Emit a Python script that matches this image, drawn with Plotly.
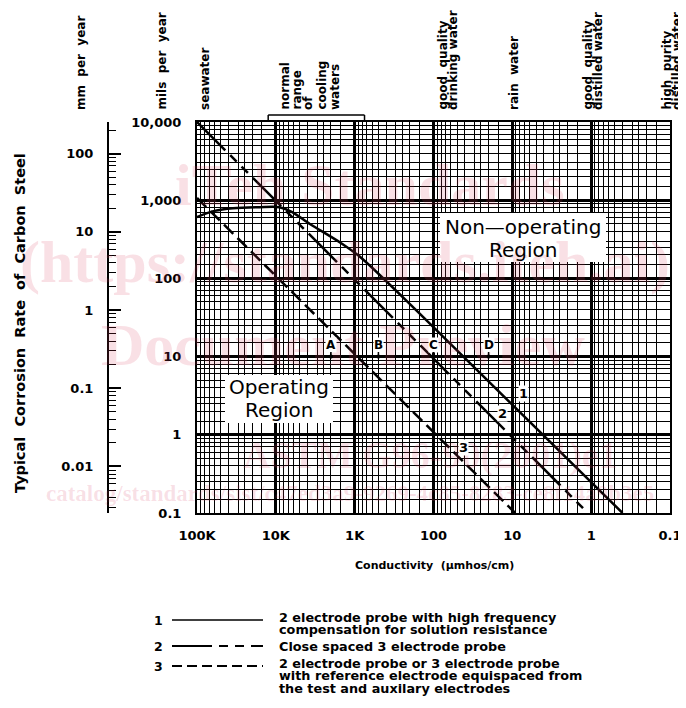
import numpy as np
import plotly.graph_objects as go

# ---------------- data ----------------
conductivity_ticks = [1e5, 1e4, 1e3, 1e2, 10, 1, 0.1]
conductivity_ticktext = ["100K", "10K", "1K", "100", "10", "1", "0.1"]
mpy_ticks = [10000, 1000, 100, 10, 1, 0.1]
mpy_ticktext = ["10,000", "1,000", "100", "10", "1", "0.1"]
mm_ticks = [100, 10, 1, 0.1, 0.01]
mm_ticktext = ["100", "10", "1", "0.1", "0.01"]
MM_PER_MIL = 0.0254

# curve 1: 2 electrode probe with HF compensation (solid)
curve1_x = [100000, 60000, 35000, 16000, 9000, 6200, 3700, 1500, 850, 135, 0.4]
curve1_y = [610, 730, 790, 815, 815, 706, 497, 284, 188, 32, 0.1]
# curve 2: close spaced 3 electrode probe
curve2_x = [100000, 1.1]
curve2_y = [10000, 0.1]
# curve 3: 2 electrode / 3 electrode equispaced
curve3_x = [100000, 9.2]
curve3_y = [1070, 0.1]

# marked points on the 10 mpy line
points_x = [2000, 500, 100, 20]
points_y = [10, 10, 10, 10]
points_labels = ["A", "B", "C", "D"]

# curve number labels
curve_label_x = [7.3, 13.5, 42]
curve_label_y = [3.4, 1.9, 0.68]
curve_label_text = ["1", "2", "3"]

# cooling water range bracket
cooling_range = [12500, 750]

legend_numbers = ["1", "2", "3"]
legend_texts = [
    ["2 electrode probe with high frequency", "compensation for solution resistance"],
    ["Close spaced 3 electrode probe"],
    ["2 electrode probe or 3 electrode probe",
     "with reference electrode equispaced from",
     "the test and auxilary electrodes"],
]

# ---------------- figure ----------------
OFF = 8                      # page body margin
W, H = 686 - OFF, 708 - OFF
def PX(x):
    return (x - OFF) / W
def PY(y):
    return 1 - (y - OFF) / H

def bf(size):
    return dict(family="DejaVu Sans", color="black", weight="bold", size=size)

DASH2 = "40px,7px,9px,7px,9px,7px"
DASH3 = "13px,6px"

# grid sub-divisions of the log paper (style only)
GRID_MANT = [1.5, 2, 2.5, 3, 4, 5, 6, 7, 8, 9]
xgrid = [m * 10.0 ** e for e in range(-1, 5) for m in GRID_MANT]
ygrid = [m * 10.0 ** e for e in range(-1, 4) for m in GRID_MANT]

fig = go.Figure()
fig.add_trace(go.Scatter(x=curve1_x, y=curve1_y, mode="lines",
                         line=dict(color="black", width=2.5, shape="spline", smoothing=0.8),
                         hoverinfo="skip", showlegend=False))
fig.add_trace(go.Scatter(x=curve2_x, y=curve2_y, mode="lines",
                         line=dict(color="black", width=2.5, dash=DASH2),
                         hoverinfo="skip", showlegend=False))
fig.add_trace(go.Scatter(x=curve3_x, y=curve3_y, mode="lines",
                         line=dict(color="black", width=2.5, dash=DASH3),
                         hoverinfo="skip", showlegend=False))
# invisible trace carrying the mm/year axis
fig.add_trace(go.Scatter(x=curve2_x, y=[v * MM_PER_MIL for v in curve2_y], yaxis="y2",
                         mode="lines", line=dict(width=0, color="rgba(0,0,0,0)"),
                         hoverinfo="skip", showlegend=False))

def grid_common(minor_vals):
    return dict(showgrid=True, gridcolor="black", gridwidth=2.5, zeroline=False,
                showline=True, linecolor="black", linewidth=2, mirror=True,
                ticks="", automargin=False,
                minor=dict(tickmode="array", tickvals=minor_vals, showgrid=True,
                           gridcolor="black", gridwidth=1, ticks=""))

fig.update_layout(
    width=W, height=H, margin=dict(l=0, r=0, t=0, b=0),
    paper_bgcolor="white", plot_bgcolor="white", showlegend=False,
    xaxis=dict(type="log", range=[5, -1], domain=[PX(197), PX(670)],
               tickmode="array", tickvals=conductivity_ticks, ticktext=conductivity_ticktext,
               tickfont=bf(13), ticklabelstandoff=9, **grid_common(xgrid)),
    yaxis=dict(type="log", range=[-1, 4], domain=[PY(513), PY(122)],
               tickmode="array", tickvals=mpy_ticks, ticktext=mpy_ticktext,
               tickfont=bf(13), ticklabelstandoff=11, **grid_common(ygrid)),
    yaxis2=dict(type="log", overlaying="y", anchor="free", position=PX(108), side="left",
                range=[np.log10(0.1 * MM_PER_MIL), np.log10(10000 * MM_PER_MIL)],
                tickmode="array", tickvals=mm_ticks, ticktext=mm_ticktext,
                ticks="inside", ticklen=12, tickwidth=1.5, tickcolor="black",
                minor=dict(dtick="D1", ticks="inside", ticklen=7, tickwidth=1.2,
                           tickcolor="black", showgrid=False),
                showgrid=False, zeroline=False, showline=True, linewidth=2, linecolor="black",
                tickfont=bf(13), ticklabelstandoff=11, automargin=False),
)

shapes = []
annos = []

# white boxes behind region labels
shapes.append(dict(type="rect", xref="paper", yref="paper", x0=PX(440), x1=PX(606),
                   y0=PY(262), y1=PY(213), fillcolor="white", line=dict(width=0), layer="above"))
shapes.append(dict(type="rect", xref="paper", yref="paper", x0=PX(225), x1=PX(333),
                   y0=PY(423), y1=PY(375), fillcolor="white", line=dict(width=0), layer="above"))

# cooling range bracket (data x, paper y)
yb0, yb1 = PY(122), PY(115)
for xa, xb, ya, yc in [(cooling_range[0], cooling_range[0], yb0, yb1),
                       (cooling_range[1], cooling_range[1], yb0, yb1),
                       (cooling_range[0], cooling_range[1], yb1, yb1)]:
    shapes.append(dict(type="line", xref="x", yref="paper", x0=xa, x1=xb, y0=ya, y1=yc,
                       line=dict(color="black", width=1.5)))

# faint document watermark
wm = "rgba(215,60,95,0.16)"
for txt, x, y, s in [("iTeh Standards", 370, 185, 60),
                     ("(https://standards.iteh.ai)", 345, 262, 60),
                     ("Document Preview", 343, 345, 60),
                     ("ASTM G96-90(2001)e1", 430, 455, 38),
                     ("catalog/standards/sist/c47ed3a9-9269-4c85-8283-ce8f14a9b3e5", 350, 493, 23)]:
    annos.append(dict(text=txt, x=PX(x), y=PY(y), xref="paper", yref="paper",
                      showarrow=False, xanchor="center", yanchor="middle",
                      font=dict(family="Liberation Serif", size=s, color=wm, weight="bold")))

# region labels
reg_font = dict(family="DejaVu Sans", size=20, color="black")
for txt, x, y in [("Non—operating", 523, 227), ("Region", 523, 250),
                  ("Operating", 279, 387), ("Region", 279, 410)]:
    annos.append(dict(text=txt, x=PX(x), y=PY(y), xref="paper", yref="paper",
                      showarrow=False, font=reg_font, xanchor="center", yanchor="middle"))

# top category labels (rotated)
top_labels = [
    ("mm  per  year", 81), ("mils  per  year", 161), ("seawater", 205),
    ("normal", 284), ("range", 296), ("of", 308), ("cooling", 321), ("waters", 335),
    ("good  quality", 442), ("drinking water", 453),
    ("rain  water", 514),
    ("good  quality", 587), ("distilled water", 598),
    ("high  purity", 666), ("distilled water", 677),
]
for txt, x in top_labels:
    annos.append(dict(text=txt, x=PX(x), y=PY(112), xref="paper", yref="paper",
                      showarrow=False, textangle=-90, font=bf(12),
                      xanchor="center", yanchor="bottom"))

# axis titles
annos.append(dict(text="Conductivity  (μmhos/cm)", x=PX(434), y=PY(565), xref="paper",
                  yref="paper", showarrow=False, font=bf(11), xanchor="center", yanchor="middle"))
annos.append(dict(text="Typical  Corrosion  Rate  of  Carbon  Steel", x=PX(20), y=PY(323),
                  xref="paper", yref="paper", showarrow=False, textangle=-90, font=bf(14.5),
                  xanchor="center", yanchor="middle"))

# curve number labels on the plot
for t, x, y in zip(curve_label_text, curve_label_x, curve_label_y):
    annos.append(dict(text=t, x=np.log10(x), y=np.log10(y), xref="x", yref="y",
                      showarrow=False, font=bf(13), bgcolor="white", borderpad=0))

# A B C D markers
for t, x, y in zip(points_labels, points_x, points_y):
    annos.append(dict(text=t, x=np.log10(x), y=np.log10(y), xref="x", yref="y",
                      showarrow=True, ax=0, ay=-12, arrowhead=6, arrowsize=0.7,
                      arrowwidth=1.5, arrowcolor="black", font=bf(12), bgcolor="white",
                      borderpad=0))

# legend
legend_rows = [617, 646, 663]
legend_dash = ["solid", DASH2, "10px,5px"]
for i, (num, lines) in enumerate(zip(legend_numbers, legend_texts)):
    yrow = legend_rows[i]
    ysample = yrow + (3 if len(lines) > 1 else 0)
    annos.append(dict(text=num, x=PX(158), y=PY(ysample), xref="paper", yref="paper",
                      showarrow=False, font=bf(12.5), xanchor="center", yanchor="middle"))
    shapes.append(dict(type="line", xref="paper", yref="paper", x0=PX(172), x1=PX(263),
                       y0=PY(ysample), y1=PY(ysample),
                       line=dict(color="black", width=2 if i else 1.5, dash=legend_dash[i])))
    for j, ln in enumerate(lines):
        annos.append(dict(text=ln, x=PX(277), y=PY(yrow + 12.5 * j), xref="paper",
                          yref="paper", showarrow=False, font=bf(12.8),
                          xanchor="left", yanchor="middle"))

fig.update_layout(shapes=shapes, annotations=annos)
fig.write_html("out.html")
